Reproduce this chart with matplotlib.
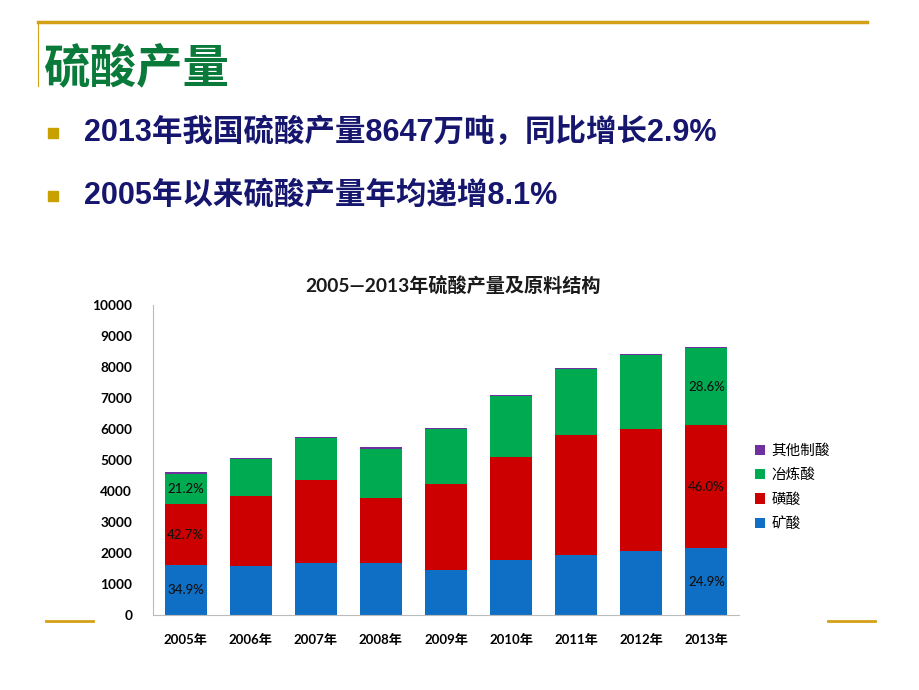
import matplotlib
matplotlib.use("Agg")
import matplotlib.pyplot as plt
from matplotlib.lines import Line2D
from matplotlib.patches import Rectangle
import numpy as np

years = ["2005年", "2006年", "2007年", "2008年", "2009年", "2010年", "2011年", "2012年", "2013年"]
series_names = ["矿酸", "磺酸", "冶炼酸", "其他制酸"]
kuang = [1605, 1595, 1680, 1680, 1465, 1770, 1950, 2060, 2153]
huang = [1970, 2230, 2660, 2080, 2745, 3330, 3860, 3930, 3978]
yelian = [975, 1205, 1360, 1590, 1790, 1970, 2120, 2400, 2473]
qita = [50, 45, 40, 60, 30, 40, 40, 30, 43]
colors = ["#0E6FC4", "#CC0000", "#00AA50", "#7030A0"]
yticks = [0, 1000, 2000, 3000, 4000, 5000, 6000, 7000, 8000, 9000, 10000]
pct_labels = {0: ["34.9%", "42.7%", "21.2%"], 8: ["24.9%", "46.0%", "28.6%"]}

W, H = 920, 690
fig = plt.figure(figsize=(9.2, 6.9), dpi=100)

def fx(x):
    return x / W

def fy(y):
    return 1 - y / H

gold = "#D4A017"
# decorative lines
fig.add_artist(Line2D([fx(38), fx(867)], [fy(22), fy(22)], color=gold, lw=2.5))
fig.add_artist(Line2D([fx(38), fx(38)], [fy(22), fy(86)], color=gold, lw=0.8))
fig.add_artist(Line2D([fx(46), fx(93)], [fy(621), fy(621)], color=gold, lw=2))
fig.add_artist(Line2D([fx(828), fx(875)], [fy(621), fy(621)], color=gold, lw=2))

# title
fig.text(fx(44), fy(68), "硫酸产量", color="#0A7A3A", fontsize=33.5, fontweight="bold",
         family=["Noto Sans CJK SC"], va="center", ha="left")

# bullets
navy = "#16166E"
for yb, txt in [(133, "2013年我国硫酸产量8647万吨，同比增长2.9%"),
                (196, "2005年以来硫酸产量年均递增8.1%")]:
    fig.add_artist(Rectangle((fx(48), fy(yb + 5)), 10 / W, 10 / H, color="#C8A000",
                             transform=fig.transFigure))
    fig.text(fx(84), fy(yb), txt, color=navy, fontsize=22, fontweight="bold",
             family=["Liberation Sans", "Noto Sans CJK SC"], va="center", ha="left")

# chart title
fig.text(fx(453), fy(285), "2005—2013年硫酸产量及原料结构", fontsize=13.8, fontweight="bold",
         family=["Lato", "Noto Sans CJK SC"], va="center", ha="center", color="#1a1a1a")

ax = fig.add_axes([fx(153), fy(615), (739 - 153) / W, (615 - 305) / H])
x = np.arange(len(years))
bw = 0.645
bottom = np.zeros(len(years))
data = [kuang, huang, yelian, qita]
for vals, c, name in zip(data, colors, series_names):
    ax.bar(x, vals, bw, bottom=bottom, color=c, label=name, edgecolor="none")
    bottom += np.array(vals)

for i, labs in pct_labels.items():
    b = 0
    for k, lab in enumerate(labs):
        v = data[k][i]
        ax.text(x[i], b + v / 2, lab, ha="center", va="center", fontsize=9.5,
                family=["Lato"], fontweight="medium", color="#111111")
        b += v

ax.set_xlim(-0.5, len(years) - 0.5)
ax.set_ylim(0, 10000)
ax.set_yticks(yticks)
ax.set_yticklabels([str(t) for t in yticks], fontsize=9.8, fontweight="bold", family=["Lato"])
ax.set_xticks(x)
ax.set_xticklabels(years, fontsize=9.5, fontweight="bold", family=["Lato", "Noto Sans CJK SC"])
ax.tick_params(axis="both", length=0)
ax.tick_params(axis="y", pad=15)
ax.tick_params(axis="x", pad=14)
for s in ["top", "right"]:
    ax.spines[s].set_visible(False)
for s in ["left", "bottom"]:
    ax.spines[s].set_color("#BBBBBB")
    ax.spines[s].set_linewidth(0.8)

handles, labels = ax.get_legend_handles_labels()
leg = fig.legend(handles[::-1], labels[::-1], loc="upper left",
                 bbox_to_anchor=(fx(742), fy(431)), frameon=False,
                 prop={"family": ["Noto Sans CJK SC"], "size": 10.5},
                 handlelength=0.7, handleheight=0.7, handletextpad=0.4,
                 labelspacing=0.7)

fig.savefig("out.png", dpi=100, facecolor="white")
